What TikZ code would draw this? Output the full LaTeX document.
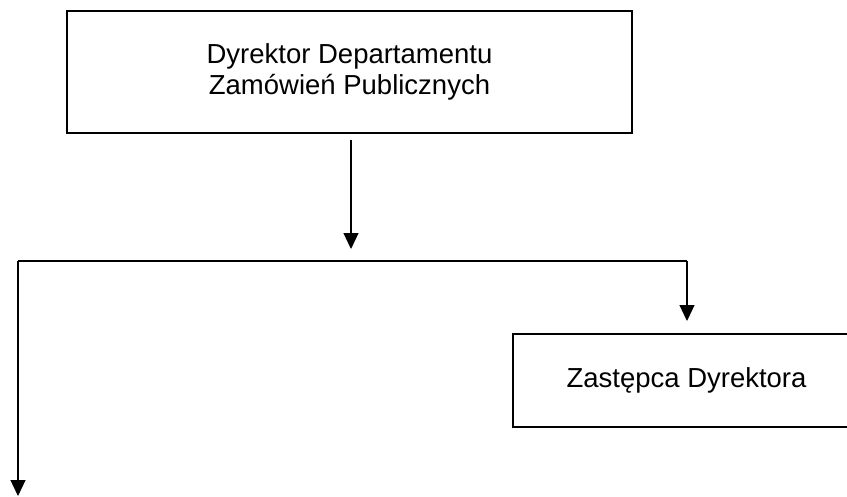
\documentclass[tikz,border=0pt]{standalone}
\usepackage{fontspec}
\setmainfont{Liberation Sans}
\usetikzlibrary{positioning,arrows.meta}

\begin{document}
\begin{tikzpicture}[
    x=1pt, y=-1pt,
    box/.style={rectangle, draw, line width=2pt, align=center, font=\fontsize{27.5}{31}\selectfont},
    arrow/.style={-{Triangle[length=16pt, width=15pt]}, line width=1.2pt},
    link/.style={line width=1.2pt},
]
\useasboundingbox (0,0) rectangle (847,496);

% Director box
\node[box, minimum width=565pt, minimum height=122pt] (dyr) at (349.5,72) {Dyrektor Departamentu\\ Zamówień Publicznych};

% Deputy box (runs past the right edge)
\node[box, minimum width=347pt, minimum height=93pt] (zast) at (686.5,380.5) {Zastępca Dyrektora};

% Branch line
\coordinate (split) at (351,261);
\coordinate (bl) at (18,261);
\coordinate (br) at (687,261);
\coordinate (down) at (18,496);

\draw[arrow] (dyr.south -| split) ++(0,6) -- ([yshift=12pt]split);
\draw[link] (bl) -- (br);
\draw[arrow] (br) -- ([yshift=12pt]zast.north -| br);
\draw[arrow] (bl) -- (down);

\end{tikzpicture}
\end{document}
